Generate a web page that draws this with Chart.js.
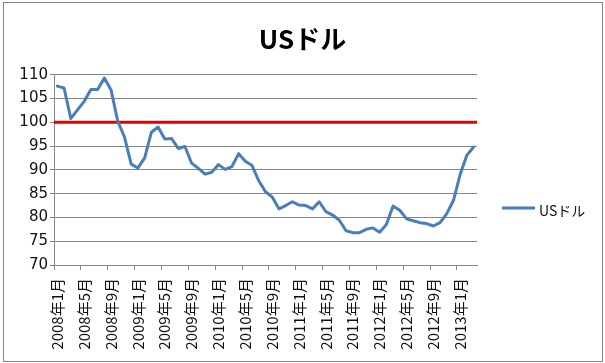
<!DOCTYPE html>
<html>
<head>
<meta charset="utf-8">
<script src="https://cdn.jsdelivr.net/npm/chart.js@4"></script>
<style>
  html, body { margin: 0; padding: 0; background: #ffffff; }
  #wrap { position: relative; width: 605px; height: 363px; }
</style>
</head>
<body>
<div id="wrap"><canvas id="c" width="605" height="363"></canvas></div>
<script>
// ---- data ----
const categories = [
  "2008年1月","2008年2月","2008年3月","2008年4月","2008年5月","2008年6月","2008年7月","2008年8月","2008年9月","2008年10月","2008年11月","2008年12月",
  "2009年1月","2009年2月","2009年3月","2009年4月","2009年5月","2009年6月","2009年7月","2009年8月","2009年9月","2009年10月","2009年11月","2009年12月",
  "2010年1月","2010年2月","2010年3月","2010年4月","2010年5月","2010年6月","2010年7月","2010年8月","2010年9月","2010年10月","2010年11月","2010年12月",
  "2011年1月","2011年2月","2011年3月","2011年4月","2011年5月","2011年6月","2011年7月","2011年8月","2011年9月","2011年10月","2011年11月","2011年12月",
  "2012年1月","2012年2月","2012年3月","2012年4月","2012年5月","2012年6月","2012年7月","2012年8月","2012年9月","2012年10月","2012年11月","2012年12月",
  "2013年1月","2013年2月","2013年3月"
];
const usdValues = [
  107.6, 107.2, 100.8, 102.6, 104.4, 106.9, 106.9, 109.3, 106.8, 100.2, 96.9, 91.2,
  90.4, 92.5, 97.9, 99.0, 96.5, 96.6, 94.5, 94.9, 91.4, 90.3, 89.1, 89.5,
  91.1, 90.1, 90.7, 93.4, 91.8, 90.9, 87.7, 85.4, 84.3, 81.8, 82.5, 83.3,
  82.6, 82.5, 81.8, 83.3, 81.2, 80.5, 79.4, 77.2, 76.8, 76.8, 77.5, 77.8,
  76.9, 78.5, 82.4, 81.5, 79.7, 79.3, 78.9, 78.7, 78.2, 78.9, 80.8, 83.6,
  89.1, 93.1, 94.8
];
const seriesName = "USドル";
const chartTitle = "USドル";
const referenceLine = 100;
const yTicks = { min: 70, max: 110, step: 5 };
const labelEvery = 4;

// ---- styles ----
const GRID = '#868686';
const BLUE = '#4A7EBB';
const RED = '#E00000';
const TEXT = '#111111';

const frameAndRefPlugin = {
  id: 'frameAndRef',
  beforeDraw(chart) {
    const ctx = chart.ctx;
    ctx.save();
    ctx.fillStyle = '#ffffff';
    ctx.fillRect(0, 0, chart.width, chart.height);
    ctx.strokeStyle = GRID;
    ctx.lineWidth = 1;
    ctx.strokeRect(3.5, 2.5, 599, 359);
    ctx.restore();
  },
  beforeDatasetsDraw(chart) {
    const ctx = chart.ctx;
    const y = chart.scales.y.getPixelForValue(referenceLine);
    const a = chart.chartArea;
    ctx.save();
    ctx.strokeStyle = RED;
    ctx.lineWidth = 3;
    ctx.beginPath();
    ctx.moveTo(a.left, y);
    ctx.lineTo(a.right, y);
    ctx.stroke();
    ctx.restore();
  },
  afterDraw(chart) {
    const ctx = chart.ctx;
    const ds = chart.data.datasets[0];
    ctx.save();
    ctx.strokeStyle = ds.borderColor;
    ctx.lineWidth = 3;
    ctx.beginPath();
    ctx.moveTo(502, 208);
    ctx.lineTo(535, 208);
    ctx.stroke();
    ctx.fillStyle = TEXT;
    ctx.font = '14px "Noto Sans CJK JP"';
    ctx.textBaseline = 'middle';
    ctx.textAlign = 'left';
    ctx.fillText(ds.label, 539, 211);
    ctx.restore();
  }
};

new Chart(document.getElementById('c'), {
  type: 'line',
  data: {
    labels: categories,
    datasets: [{
      label: seriesName,
      data: usdValues,
      borderColor: BLUE,
      backgroundColor: BLUE,
      borderWidth: 3,
      pointRadius: 0,
      tension: 0,
      borderJoinStyle: 'round',
      borderCapStyle: 'round'
    }]
  },
  options: {
    responsive: false,
    animation: false,
    devicePixelRatio: 1,
    layout: { padding: { left: 0, right: 0, top: 0, bottom: 0 } },
    plugins: {
      legend: { display: false },
      tooltip: { enabled: false },
      title: {
        display: true,
        text: chartTitle,
        color: '#000000',
        font: { family: '"Noto Sans CJK JP"', size: 26, weight: 'bold' },
        padding: { top: 24, bottom: 19.5 }
      }
    },
    scales: {
      x: {
        type: 'category',
        offset: true,
        afterFit(scale) { scale.height = 98; },
        grid: {
          offset: true,
          drawOnChartArea: false,
          drawTicks: true,
          tickLength: 5,
          color: (ctx) => (ctx.index % labelEvery === 0 ? GRID : 'rgba(0,0,0,0)')
        },
        border: { display: true, color: GRID, width: 1 },
        ticks: {
          autoSkip: false,
          maxRotation: 90,
          minRotation: 90,
          padding: 8,
          color: TEXT,
          font: { family: '"Noto Sans CJK JP"', size: 15 },
          callback(value, index) { return index % labelEvery === 0 ? this.getLabelForValue(value) : ''; }
        }
      },
      y: {
        min: yTicks.min,
        max: yTicks.max,
        afterFit(scale) { scale.width = 54; },
        grid: { color: GRID, lineWidth: 1, drawTicks: true, tickLength: 4 },
        border: { display: true, color: GRID, width: 1 },
        ticks: {
          stepSize: yTicks.step,
          padding: 2,
          color: TEXT,
          font: { family: '"DejaVu Sans"', size: 15 }
        }
      },
      legendSpace: {
        type: 'linear',
        position: 'right',
        display: true,
        afterFit(scale) { scale.width = 128; },
        grid: { display: false, drawTicks: false },
        border: { display: false },
        ticks: { display: false }
      }
    }
  },
  plugins: [frameAndRefPlugin]
});
</script>
</body>
</html>
